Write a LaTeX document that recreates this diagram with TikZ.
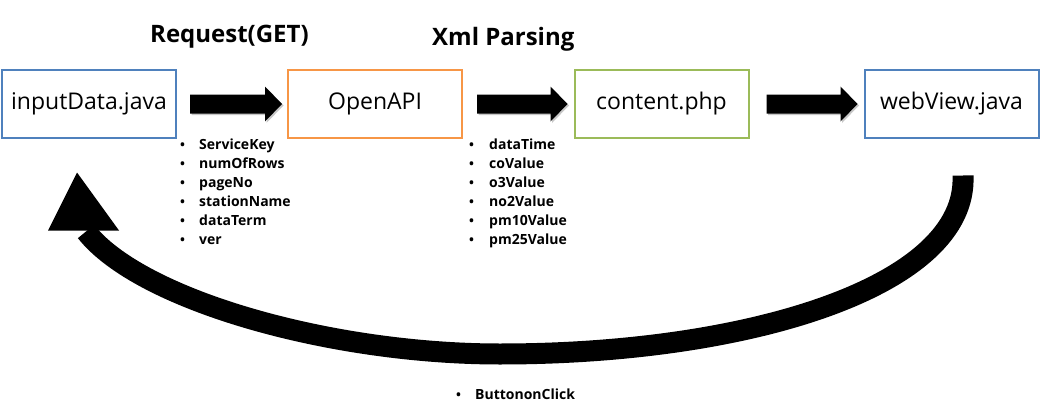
\documentclass[tikz,border=0pt]{standalone}
\usepackage{fontspec}
\setmainfont{Open Sans}
\usetikzlibrary{calc}
\definecolor{bxblue}{HTML}{4F81BD}
\definecolor{bxorange}{HTML}{F79646}
\definecolor{bxgreen}{HTML}{9BBB59}
\tikzset{
  box/.style={draw=#1, line width=2pt, minimum width=174pt, minimum height=67pt,
    inner sep=0pt, font=\fontsize{23}{26}\selectfont, fill=white},
  itemtxt/.style={anchor=base west, inner sep=0pt, font=\fontsize{14}{16}\selectfont\bfseries},
  bul/.style={anchor=base west, inner sep=0pt, font=\fontsize{13}{14}\selectfont\bfseries},
  title/.style={anchor=base west, inner sep=0pt, font=\fontsize{24}{28}\selectfont\bfseries},
  blockarrow/.style={fill=black},
  blockshadow/.style={fill=black!22},
  returnarrow/.style={line width=21pt},
}
\begin{document}
\begin{tikzpicture}[x=1pt,y=-1pt]
\useasboundingbox (0,0) rectangle (1044,420);

% boxes
\node[box=bxblue]   (inp) at (89,104)   {inputData.java};
\node[box=bxorange] (api) at (375,104)  {OpenAPI};
\node[box=bxgreen]  (cnt) at (661.5,104) {content.php};
\node[box=bxblue]   (web) at (951.5,104) {webView.java};

% titles
\node[title] (t1) at (150,43) {Request(GET)};
\node[title] (t2) at (432,46) {Xml Parsing};

% block arrows
\foreach \a/\b/\ga/\gb in {inp/api/13/5, api/cnt/14/6, cnt/web/17/6}{
  \coordinate (s) at ($(\a.east)+(\ga,0)$);
  \coordinate (t) at ($(\b.west)+(-\gb,0)$);
  \fill[blockshadow] ($(s)+(1.5,-8)$) -- ($(t)+(-15.5,-8)$) -- ($(t)+(-15.5,-16)$) -- ($(t)+(1.5,1.5)$)
     -- ($(t)+(-15.5,19)$) -- ($(t)+(-15.5,11)$) -- ($(s)+(1.5,11)$) -- cycle;
  \fill[blockarrow] ($(s)+(0,-9.5)$) -- ($(t)+(-17,-9.5)$) -- ($(t)+(-17,-17.5)$) -- (t)
     -- ($(t)+(-17,17.5)$) -- ($(t)+(-17,9.5)$) -- ($(s)+(0,9.5)$) -- cycle;
}

% list 1
\foreach \txt [count=\i] in {ServiceKey,numOfRows,pageNo,stationName,dataTerm,ver}{
  \node[bul] (ba\i) at (180,{130+19*\i}) {•};
  \node[itemtxt] (la\i) at (199,{130+19*\i}) {\txt};
}
% list 2
\foreach \txt [count=\i] in {dataTime,coValue,o3Value,no2Value,pm10Value,pm25Value}{
  \node[bul] (bb\i) at (469,{130+19*\i}) {•};
  \node[itemtxt] (lb\i) at (489,{130+19*\i}) {\txt};
}
% button label
\node[bul] (bc) at (456,399) {•};
\node[itemtxt] (lc) at (475,399) {ButtononClick};

% big curved return arrow
\coordinate (cs) at ($(web.south)+(11.5,37)$);
\coordinate (cm) at (500,354);
\coordinate (ce) at ($(inp.south)+(-3,93)$);
\coordinate (tip) at ($(inp.south)+(-12,34)$);
\draw[returnarrow] (cs) .. controls (968,286) and (750,354) .. (cm)
   .. controls (330,354) and (140,300) .. (ce);
\fill (tip) -- ($(inp.south)+(-41,92)$) -- ($(inp.south)+(30,92)$) -- cycle;
\end{tikzpicture}
\end{document}
